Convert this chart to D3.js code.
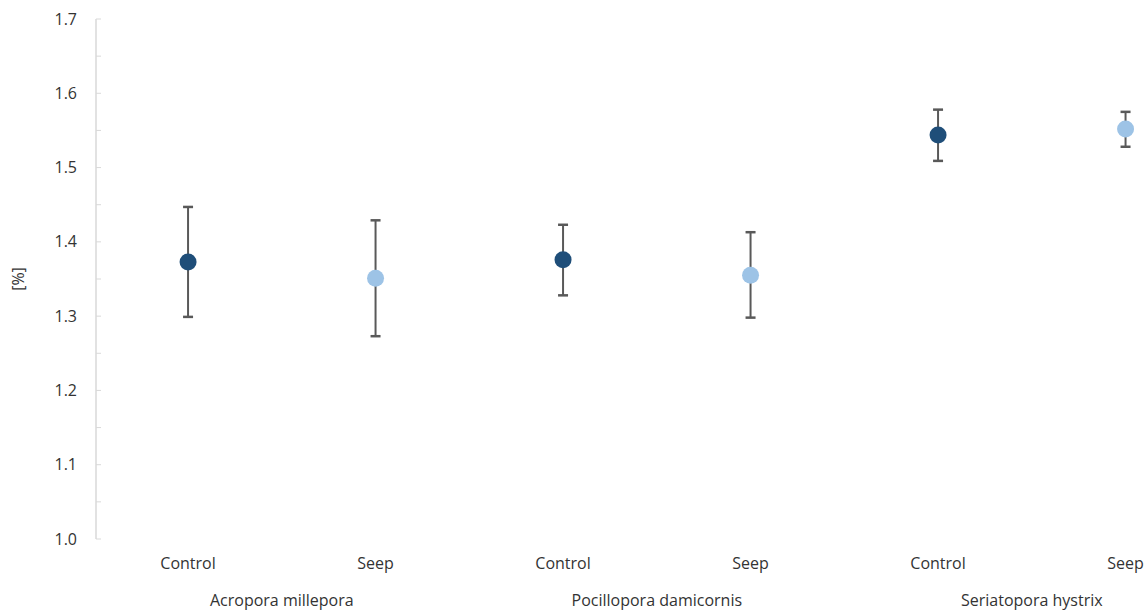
<!DOCTYPE html>
<html><head><meta charset="utf-8">
<script src="https://cdn.jsdelivr.net/npm/d3@7"></script>
<style>body{margin:0;background:#fff}svg{display:block}text{font-family:"Open Sans",sans-serif;fill:#333}</style>
</head><body><svg id="c" width="1148" height="610"></svg>
<script>
const species = ["Acropora millepora","Pocillopora damicornis","Seriatopora hystrix"];
const treatments = ["Control","Seep"];
const means = [1.373,1.351,1.376,1.355,1.544,1.552];
const upper = [1.447,1.429,1.423,1.413,1.578,1.575];
const lower = [1.299,1.273,1.328,1.298,1.509,1.528];
const yTicks = [1.0,1.1,1.2,1.3,1.4,1.5,1.6,1.7];
const colors = {Control:"#1f4e79", Seep:"#9dc3e6"};

const rows = [];
species.forEach((s,i)=>treatments.forEach((t,j)=>{const k=i*2+j;rows.push({key:s+"|"+t,s,t,m:means[k],u:upper[k],l:lower[k]});}));

const svg = d3.select("#c");
const axisX = 96, x0 = 94.3, step = 187.5;
const x = d3.scaleBand().domain(rows.map(d=>d.key)).range([x0, x0+step*rows.length]);
const y = d3.scaleLinear().domain([1.0,1.7]).range([539,19]);

// y axis
const ax = svg.append("g").attr("transform",`translate(${axisX},0)`);
ax.append("line").attr("x1",0).attr("x2",0).attr("y1",y(1.7)).attr("y2",y(1.0)).attr("stroke","#d9d9d9").attr("stroke-width",1.5);
const minor = d3.range(0,15).map(i=>1.0+i*0.05);
ax.selectAll("line.t").data(minor).join("line").attr("class","t")
  .attr("x1",0).attr("x2",5).attr("y1",d=>y(d)).attr("y2",d=>y(d)).attr("stroke","#d9d9d9").attr("stroke-width",1);
ax.selectAll("text").data(yTicks).join("text").attr("x",-19).attr("y",d=>y(d)).attr("dy","0.35em")
  .attr("text-anchor","end").attr("font-size",16).text(d=>d.toFixed(1));

svg.append("text").attr("transform",`translate(24,${y(1.35)}) rotate(-90)`).attr("text-anchor","middle").attr("font-size",16).text("[%]");

// category labels
const cx = d=>x(d.key)+x.bandwidth()/2;
svg.selectAll("text.tr").data(rows).join("text").attr("class","tr").attr("x",cx).attr("y",569)
  .attr("text-anchor","middle").attr("font-size",16).text(d=>d.t);
svg.selectAll("text.sp").data(species).join("text").attr("class","sp")
  .attr("x",(s,i)=>(cx(rows[i*2])+cx(rows[i*2+1]))/2).attr("y",606)
  .attr("text-anchor","middle").attr("font-size",16).text(d=>d);

// error bars
const eb = svg.append("g").attr("stroke","#595959").attr("stroke-width",2);
eb.selectAll("line.v").data(rows).join("line").attr("class","v").attr("x1",cx).attr("x2",cx).attr("y1",d=>y(d.u)).attr("y2",d=>y(d.l));
eb.selectAll("line.cu").data(rows).join("line").attr("class","cu").attr("x1",d=>cx(d)-5).attr("x2",d=>cx(d)+5).attr("y1",d=>y(d.u)).attr("y2",d=>y(d.u)).attr("stroke-width",2.5);
eb.selectAll("line.cl").data(rows).join("line").attr("class","cl").attr("x1",d=>cx(d)-5).attr("x2",d=>cx(d)+5).attr("y1",d=>y(d.l)).attr("y2",d=>y(d.l)).attr("stroke-width",2.5);

svg.selectAll("circle").data(rows).join("circle").attr("cx",cx).attr("cy",d=>y(d.m)).attr("r",8.5).attr("fill",d=>colors[d.t]);
</script></body></html>
